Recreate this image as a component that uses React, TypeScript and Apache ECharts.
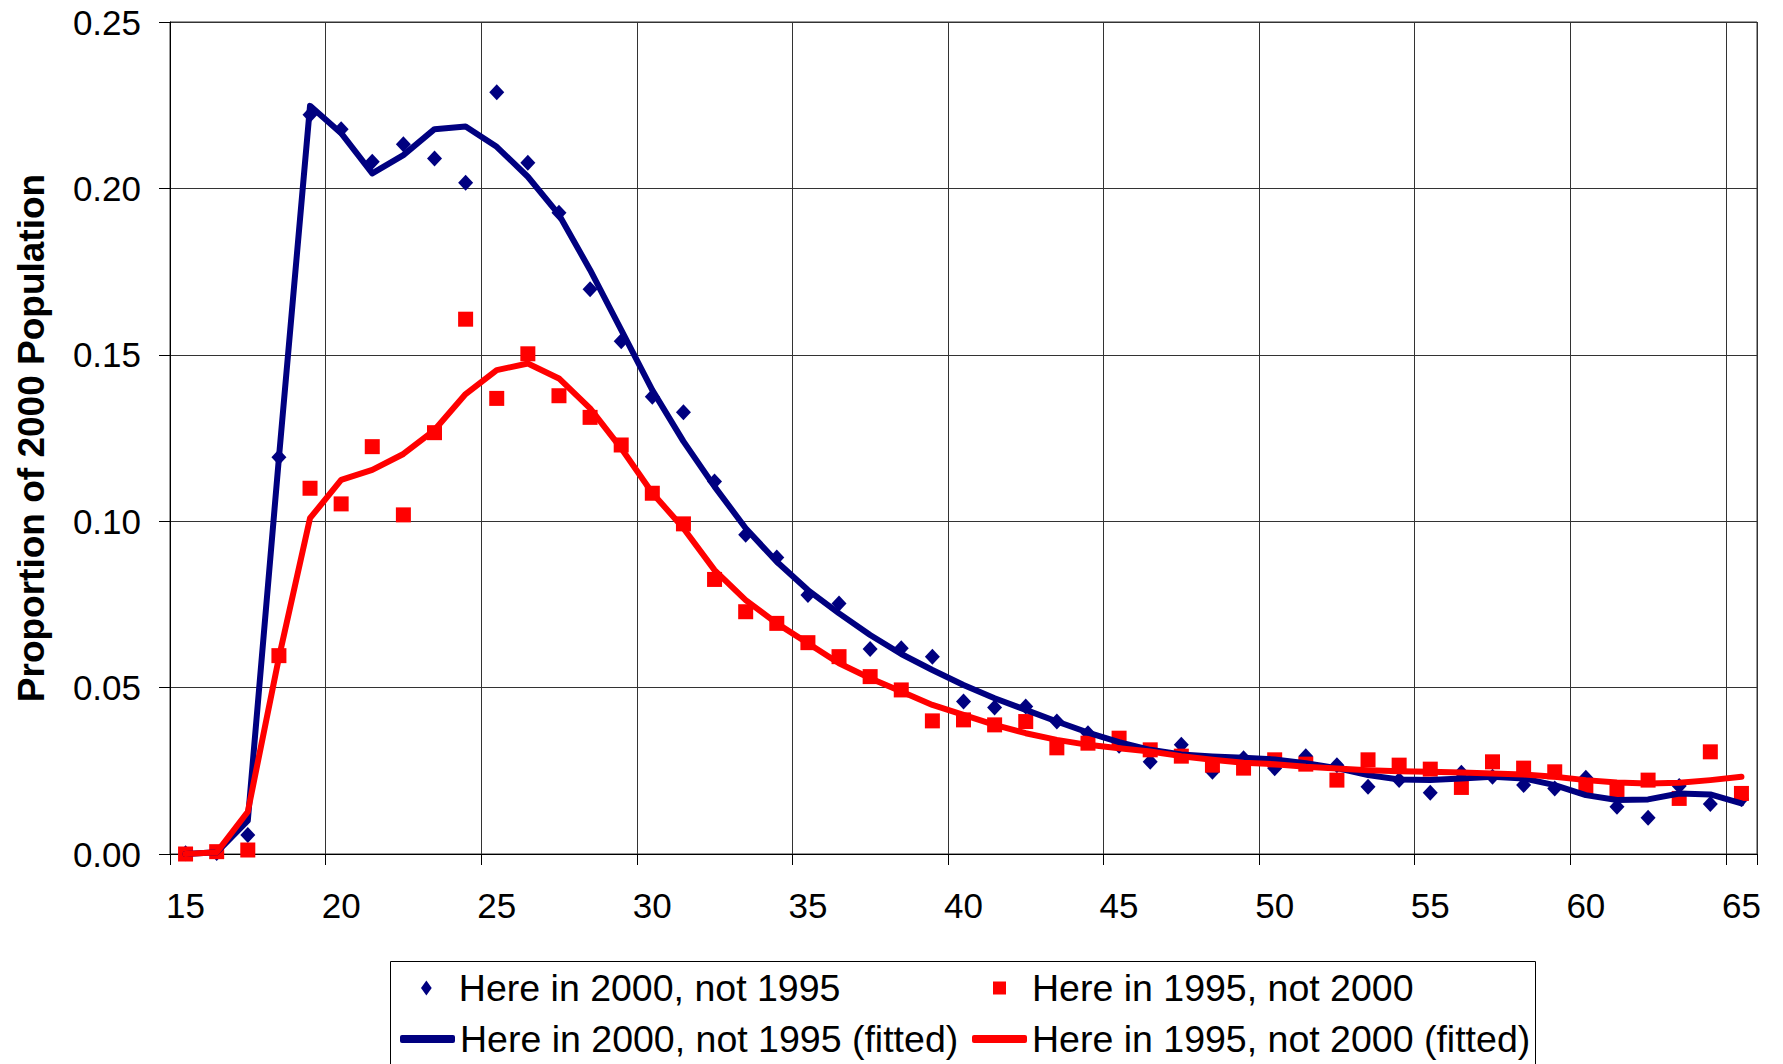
import React, { useEffect, useRef } from "react";
import * as echarts from "echarts";

const ages = [
  "15", "16", "17", "18", "19", "20", "21", "22", "23", "24",
  "25", "26", "27", "28", "29", "30", "31", "32", "33", "34",
  "35", "36", "37", "38", "39", "40", "41", "42", "43", "44",
  "45", "46", "47", "48", "49", "50", "51", "52", "53", "54",
  "55", "56", "57", "58", "59", "60", "61", "62", "63", "64", "65",
];

const here2000Obs = [
  0.0002, 0.0003, 0.0057, 0.1192, 0.2221, 0.2178, 0.208, 0.2133, 0.209, 0.2017,
  0.2289, 0.2077, 0.1927, 0.1697, 0.1541, 0.1374, 0.1327, 0.1119, 0.0959, 0.0891,
  0.0778, 0.0753, 0.0616, 0.0618, 0.0593, 0.0458, 0.044, 0.0443, 0.0398, 0.0363,
  0.0325, 0.0277, 0.0328, 0.0247, 0.0288, 0.0258, 0.0294, 0.0267, 0.0202, 0.0222,
  0.0184, 0.0244, 0.0232, 0.0207, 0.0197, 0.0229, 0.0142, 0.0109, 0.0204, 0.015, 0.0165,
];

const here1995Obs = [
  0.0, 0.0007, 0.0012, 0.0596, 0.1099, 0.1052, 0.1224, 0.1019, 0.1266, 0.1607,
  0.1369, 0.1503, 0.1377, 0.1312, 0.1229, 0.1084, 0.0992, 0.0825, 0.0728, 0.0693,
  0.0635, 0.0593, 0.0533, 0.0493, 0.04, 0.0403, 0.0388, 0.0398, 0.0319, 0.0333,
  0.0348, 0.0313, 0.0294, 0.0267, 0.0258, 0.0283, 0.027, 0.0222, 0.0283, 0.0267,
  0.0255, 0.02, 0.0277, 0.0258, 0.0247, 0.0197, 0.0192, 0.0222, 0.0167, 0.0307, 0.0182,
];

const here2000Fit = [
  0.0, 0.0005, 0.01, 0.119, 0.2248, 0.2166, 0.2045, 0.21, 0.2178, 0.2186,
  0.2125, 0.2035, 0.1921, 0.1755, 0.1575, 0.1394, 0.124, 0.1104, 0.0979, 0.0878,
  0.0793, 0.0723, 0.0658, 0.0601, 0.0553, 0.0508, 0.0468, 0.0433, 0.0398, 0.0365,
  0.0336, 0.0313, 0.0299, 0.0293, 0.0289, 0.0284, 0.0273, 0.0258, 0.0237, 0.0224,
  0.0222, 0.0227, 0.0232, 0.0227, 0.0207, 0.0177, 0.0162, 0.0164, 0.0182, 0.0179, 0.0152,
];

const here1995Fit = [
  0.0, 0.0005, 0.0127, 0.059, 0.1009, 0.1124, 0.1154, 0.1202, 0.1274, 0.1382,
  0.1454, 0.1474, 0.1429, 0.1339, 0.1219, 0.1085, 0.0979, 0.0853, 0.0763, 0.0693,
  0.0633, 0.0573, 0.0528, 0.0488, 0.0448, 0.0418, 0.0388, 0.0363, 0.0343, 0.0328,
  0.0318, 0.0308, 0.0294, 0.0283, 0.0274, 0.027, 0.0262, 0.0257, 0.0252, 0.0249,
  0.0247, 0.0245, 0.0242, 0.0239, 0.0232, 0.0222, 0.0215, 0.0212, 0.0214, 0.0222, 0.0232,
];

const S1 = "Here in 2000, not 1995";
const S2 = "Here in 1995, not 2000";
const S3 = "Here in 2000, not 1995 (fitted)";
const S4 = "Here in 1995, not 2000 (fitted)";
const Y_TITLE = "Proportion of 2000 Population";

const FONT = "'Liberation Sans', Arial, sans-serif";
const NAVY = "#000080";
const RED = "#FF0000";

export default function App() {
  const ref = useRef<HTMLDivElement>(null);

  useEffect(() => {
    document.body.style.margin = "0";
    if (!ref.current) return;
    const chart = echarts.init(ref.current, null, { renderer: "svg" });

    const legendCommon = {
      orient: "horizontal",
      padding: 0,
      selectedMode: false,
      itemWidth: 55,
      symbolKeepAspect: true,
      textStyle: { fontSize: 37.5, fontFamily: FONT, color: "#000", lineHeight: 40 },
    };

    const option = {
      animation: false,
      backgroundColor: "#ffffff",
      grid: {
        left: 170,
        right: 26,
        top: 22,
        bottom: 210,
        show: true,
        borderColor: "#333",
        borderWidth: 1,
        containLabel: false,
      },
      graphic: [
        {
          type: "rect",
          shape: { x: 390.5, y: 961.5, width: 1145, height: 200 },
          style: { fill: "#fff", stroke: "#000", lineWidth: 1 },
          z: 0,
        },
      ],
      legend: [
        {
          ...legendCommon,
          data: [S1],
          left: 421,
          top: 968,
          itemHeight: 15,
          icon: "path://M5,0L10,7L5,14L0,7Z",
          itemStyle: { color: NAVY, borderWidth: 0, opacity: 1 },
        },
        {
          ...legendCommon,
          data: [S2],
          left: 993,
          top: 968,
          itemHeight: 13,
          icon: "path://M0,0L10,0L10,10L0,10Z",
          itemStyle: { color: RED, borderWidth: 0, opacity: 1 },
        },
        {
          ...legendCommon,
          data: [S3],
          left: 400,
          top: 1019,
          itemHeight: 8,
          icon: "roundRect",
          itemStyle: { color: NAVY, borderWidth: 0, opacity: 1 },
        },
        {
          ...legendCommon,
          data: [S4],
          left: 972,
          top: 1019,
          itemHeight: 8,
          icon: "roundRect",
          itemStyle: { color: RED, borderWidth: 0, opacity: 1 },
        },
      ],
      xAxis: {
        type: "category",
        data: ages,
        boundaryGap: true,
        axisLine: { show: true, lineStyle: { color: "#000", width: 1 } },
        axisTick: { show: true, interval: 4, length: 11, lineStyle: { color: "#000" } },
        axisLabel: { interval: 4, margin: 34, fontSize: 35, color: "#000", fontFamily: FONT },
        splitLine: { show: true, interval: 4, lineStyle: { color: "#333", width: 1 } },
      },
      yAxis: {
        type: "value",
        min: 0,
        max: 0.25,
        interval: 0.05,
        name: Y_TITLE,
        nameLocation: "middle",
        nameGap: 120,
        nameTextStyle: { fontSize: 37, fontWeight: "bold", fontFamily: FONT, color: "#000" },
        axisLine: { show: true, lineStyle: { color: "#000" } },
        axisTick: { show: true, length: 11, lineStyle: { color: "#000" } },
        axisLabel: {
          margin: 29,
          fontSize: 35,
          color: "#000",
          fontFamily: FONT,
          formatter: (v: number) => v.toFixed(2),
        },
        splitLine: { show: true, lineStyle: { color: "#333", width: 1 } },
      },
      series: [
        {
          name: S1,
          type: "scatter",
          data: here2000Obs,
          symbol: "diamond",
          symbolSize: [15, 16],
          itemStyle: { color: NAVY, opacity: 1 },
        },
        {
          name: S3,
          type: "line",
          data: here2000Fit,
          showSymbol: false,
          symbol: "none",
          lineStyle: { color: NAVY, width: 6, cap: "round", join: "round" },
          itemStyle: { color: NAVY },
        },
        {
          name: S2,
          type: "scatter",
          data: here1995Obs,
          symbol: "rect",
          symbolSize: 15,
          itemStyle: { color: RED, opacity: 1 },
        },
        {
          name: S4,
          type: "line",
          data: here1995Fit,
          showSymbol: false,
          symbol: "none",
          lineStyle: { color: RED, width: 6, cap: "round", join: "round" },
          itemStyle: { color: RED },
        },
      ],
    };

    chart.setOption(option as any);
    return () => chart.dispose();
  }, []);

  return <div ref={ref} style={{ width: 1783, height: 1064 }} />;
}
